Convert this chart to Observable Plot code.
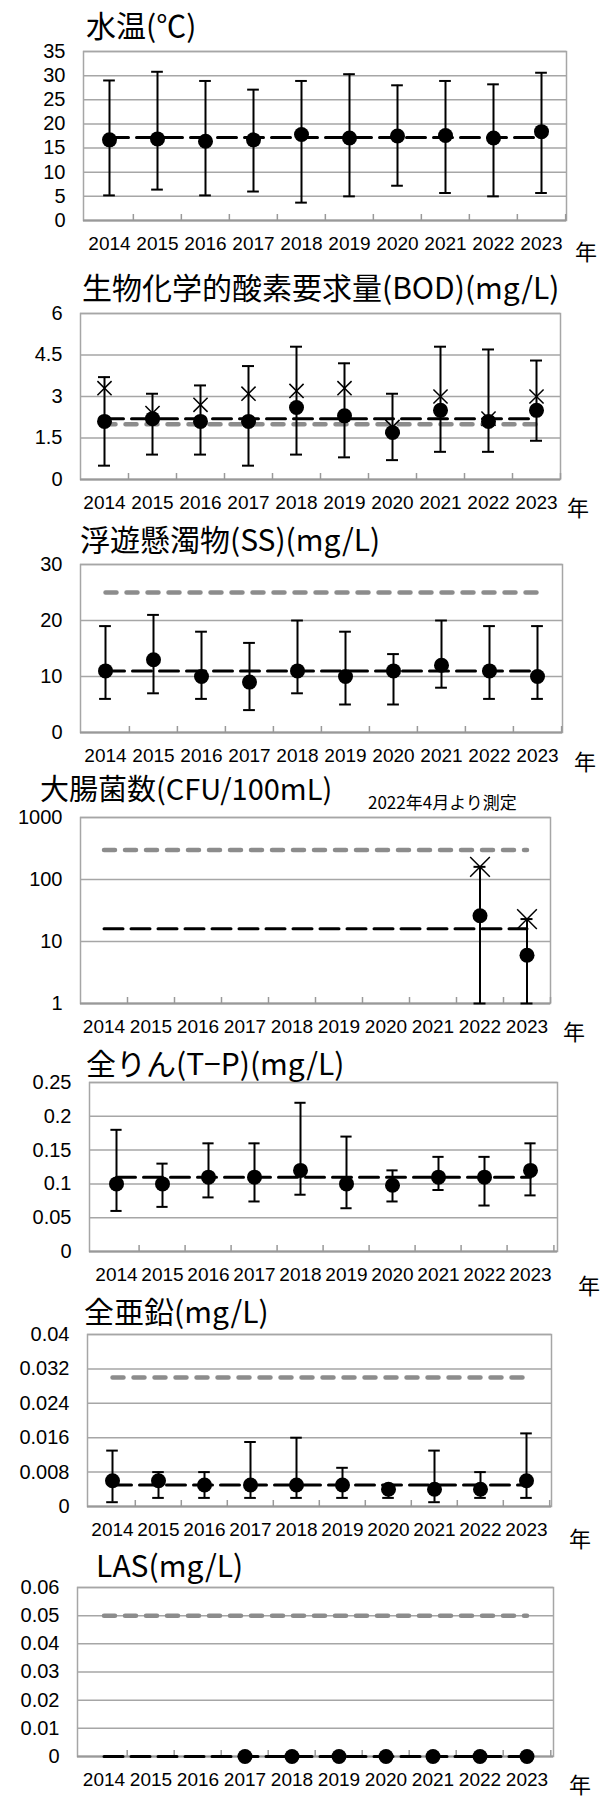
<!DOCTYPE html>
<html><head><meta charset="utf-8">
<script src="https://cdn.jsdelivr.net/npm/d3@7"></script>
<script src="https://cdn.jsdelivr.net/npm/@observablehq/plot@0.6"></script>
<style>
body{margin:0;background:#fff;}
#root{position:relative;width:600px;height:1798px;overflow:hidden;font-family:"Noto Sans CJK JP",sans-serif;color:#000;}
.panel{position:absolute;left:0;}
.title{position:absolute;white-space:nowrap;line-height:1;}
.nen{position:absolute;font-size:22px;line-height:1;}
.note{position:absolute;font-size:17px;line-height:1;white-space:nowrap;}
</style></head><body><div id="root"></div>
<script>
const years = [2014,2015,2016,2017,2018,2019,2020,2021,2022,2023];

// 水温
const tempMean = [16.7,16.9,16.4,16.7,17.8,17.1,17.5,17.6,17.1,18.4];
const tempMax  = [29.0,30.8,28.9,27.1,28.9,30.3,28.0,28.9,28.2,30.6];
const tempMin  = [5.2,6.4,5.2,6.0,3.7,5.0,7.2,5.7,5.0,5.7];
const tempAvg = 17.2;
const tempTicks = [0,5,10,15,20,25,30,35];

// BOD
const bodMean = [2.1,2.2,2.1,2.1,2.6,2.3,1.7,2.5,2.1,2.5];
const bodP75  = [3.3,2.4,2.7,3.1,3.2,3.3,1.9,3.0,2.2,3.0];
const bodMax  = [3.7,3.1,3.4,4.1,4.8,4.2,3.1,4.8,4.7,4.3];
const bodMin  = [0.5,0.9,0.9,0.5,0.9,0.8,0.7,1.0,1.0,1.4];
const bodAvg = 2.2;
const bodStd = 2.0;
const bodTicks = [0,1.5,3,4.5,6];

// SS
const ssMean = [11,13,10,9,11,10,11,12,11,10];
const ssMax  = [19,21,18,16,20,18,14,20,19,19];
const ssMin  = [6,7,6,4,7,5,5,8,6,6];
const ssAvg = 11;
const ssStd = 25;
const ssTicks = [0,10,20,30];

// 大腸菌数
const ecMean = [null,null,null,null,null,null,null,null,26,6];
const ecP75  = [null,null,null,null,null,null,null,null,160,23];
const ecMax  = [null,null,null,null,null,null,null,null,160,23];
const ecMin  = [null,null,null,null,null,null,null,null,1,1];
const ecAvg = 16;
const ecStd = 300;
const ecTicks = [1,10,100,1000];

// T-P
const tpMean = [0.10,0.10,0.11,0.11,0.12,0.10,0.098,0.11,0.11,0.12];
const tpMax  = [0.18,0.13,0.16,0.16,0.22,0.17,0.12,0.14,0.14,0.16];
const tpMin  = [0.060,0.066,0.080,0.074,0.084,0.064,0.074,0.091,0.068,0.083];
const tpAvg = 0.11;
const tpTicks = [0,0.05,0.1,0.15,0.2,0.25];

// 全亜鉛
const znMean = [0.006,0.006,0.005,0.005,0.005,0.005,0.004,0.004,0.004,0.006];
const znMax  = [0.013,0.008,0.008,0.015,0.016,0.009,0.005,0.013,0.008,0.017];
const znMin  = [0.001,0.002,0.002,0.002,0.002,0.002,0.002,0.001,0.002,0.002];
const znAvg = 0.005;
const znStd = 0.03;
const znTicks = [0,0.008,0.016,0.024,0.032,0.04];

// LAS
const lasMean = [null,null,null,0,0,0,0,0,0,0];
const lasAvg = 0;
const lasStd = 0.05;
const lasTicks = [0,0.01,0.02,0.03,0.04,0.05,0.06];

const panels = [
  {title:"水温(℃)", mean:tempMean, max:tempMax, min:tempMin, avg:tempAvg, ticks:tempTicks,
   L:83,R:566,T:51,B:220, tx:86, ty:24, ny:250, nx:575, fs:30},
  {title:"生物化学的酸素要求量(BOD)(mg/L)", mean:bodMean, p75:bodP75, max:bodMax, min:bodMin, avg:bodAvg, std:bodStd, ticks:bodTicks,
   L:80,R:560,T:313,B:479, tx:82, ty:286, ny:506, nx:567, fs:30},
  {title:"浮遊懸濁物(SS)(mg/L)", mean:ssMean, max:ssMax, min:ssMin, avg:ssAvg, std:ssStd, ticks:ssTicks,
   L:80,R:562,T:564,B:732, tx:80, ty:538, ny:760, nx:574, fs:30},
  {title:"大腸菌数(CFU/100mL)", mean:ecMean, p75:ecP75, max:ecMax, min:ecMin, avg:ecAvg, std:ecStd, ticks:ecTicks, log:true,
   L:80,R:550,T:817,B:1003, tx:40, ty:787, ny:1030, nx:563, xr:9, fs:29,
   note:"2022年4月より測定", notex:368, notey:801},
  {title:"全りん(T−P)(mg/L)", mean:tpMean, max:tpMax, min:tpMin, avg:tpAvg, ticks:tpTicks,
   L:89,R:557,T:1082,B:1251, tx:86, ty:1062, ny:1284, nx:578, fs:30},
  {title:"全亜鉛(mg/L)", mean:znMean, max:znMax, min:znMin, avg:znAvg, std:znStd, ticks:znTicks,
   L:87,R:551,T:1334,B:1506, tx:84, ty:1310, ny:1537, nx:569, fs:30},
  {title:"LAS(mg/L)", mean:lasMean, avg:lasAvg, std:lasStd, ticks:lasTicks,
   L:77,R:553,T:1587,B:1756, tx:96, ty:1564, ny:1783, nx:569, fs:30}
];

const root = document.getElementById("root");
const GRID = "#a6a6a6";
const FONT = "'Liberation Sans',Arial,sans-serif";

panels.forEach(p => {
  const rows = years.map((yr,i) => ({
    year: yr,
    mean: p.mean[i],
    p75: p.p75 ? p.p75[i] : null,
    max: p.max ? p.max[i] : null,
    min: p.min ? p.min[i] : null,
    avg: p.avg,
    std: p.std
  }));
  const bars = rows.filter(d => d.max != null);
  const mt = 14, mb = 48;
  const bw = (p.R - p.L) / years.length;
  const capInset = (bw - 12) / 2;
  const yDomain = [p.ticks[0], p.ticks[p.ticks.length-1]];
  const marks = [
    Plot.gridY(p.ticks, {stroke: GRID, strokeOpacity: 1, strokeWidth: 1.5}),
    Plot.frame({stroke: GRID, strokeWidth: 1.5}),
    Plot.ruleY([yDomain[0]], {stroke: "#999", strokeWidth: 2}),
    Plot.ruleX(years.slice(1), {x: d => d, dx: -bw/2, insetTop: (p.B - p.T) - 6, stroke: "#999", strokeWidth: 1.5}),
    Plot.ruleX([years[years.length-1]], {x: d => d, dx: bw/2, insetTop: (p.B - p.T) - 6, stroke: "#999", strokeWidth: 1.5})
  ];
  if (p.std != null) {
    marks.push(Plot.line(rows, {x: "year", y: "std", stroke: "#8c8c8c", strokeWidth: 4.5, strokeDasharray: "11,10", strokeLinecap: "round"}));
  }
  marks.push(Plot.line(rows, {x: "year", y: "avg", stroke: "#000", strokeWidth: 3, strokeDasharray: "19,8"}));
  if (bars.length) {
    marks.push(Plot.ruleX(bars, {x: "year", y1: "min", y2: "max", stroke: "#000", strokeWidth: 2}));
    marks.push(Plot.tickY(bars, {x: "year", y: "max", insetLeft: capInset, insetRight: capInset, stroke: "#000", strokeWidth: 2}));
    marks.push(Plot.tickY(bars, {x: "year", y: "min", insetLeft: capInset, insetRight: capInset, stroke: "#000", strokeWidth: 2}));
  }
  marks.push(Plot.dot(rows.filter(d => d.mean != null), {x: "year", y: "mean", r: 7.5, fill: "#000", stroke: "none"}));
  if (p.p75) {
    marks.push(Plot.dot(rows.filter(d => d.p75 != null), {x: "year", y: "p75", symbol: "times", r: p.xr || 6.5, stroke: "#000", strokeWidth: 1.5}));
  }
  marks.push(Plot.axisX({tickSize: 0, tickPadding: 16, tickFormat: d => String(d), fontSize: 19, label: null}));
  marks.push(Plot.axisY(p.ticks, {tickSize: 0, tickPadding: 18, tickFormat: d => String(d), fontSize: 20, label: null}));
  const chart = Plot.plot({
    width: 600,
    height: (p.B - p.T) + mt + mb,
    marginTop: mt, marginBottom: mb, marginLeft: p.L, marginRight: 600 - p.R,
    style: {fontFamily: FONT, fontSize: "19px", color: "#000", background: "transparent", overflow: "visible"},
    x: {type: "band", domain: years, padding: 0},
    y: p.log ? {type: "log", domain: yDomain} : {domain: yDomain},
    marks
  });
  chart.classList.add("panel");
  chart.style.top = (p.T - mt) + "px";
  root.appendChild(chart);

  const t = document.createElement("div");
  t.className = "title";
  t.style.fontSize = p.fs + "px";
  t.style.left = p.tx + "px";
  t.style.top = (p.ty - p.fs/2) + "px";
  t.textContent = p.title;
  root.appendChild(t);

  const n = document.createElement("div");
  n.className = "nen";
  n.style.left = p.nx + "px";
  n.style.top = (p.ny - 11) + "px";
  n.textContent = "年";
  root.appendChild(n);

  if (p.note) {
    const nt = document.createElement("div");
    nt.className = "note";
    nt.style.left = p.notex + "px";
    nt.style.top = (p.notey - 8.5) + "px";
    nt.textContent = p.note;
    root.appendChild(nt);
  }
});
</script>
</body></html>
